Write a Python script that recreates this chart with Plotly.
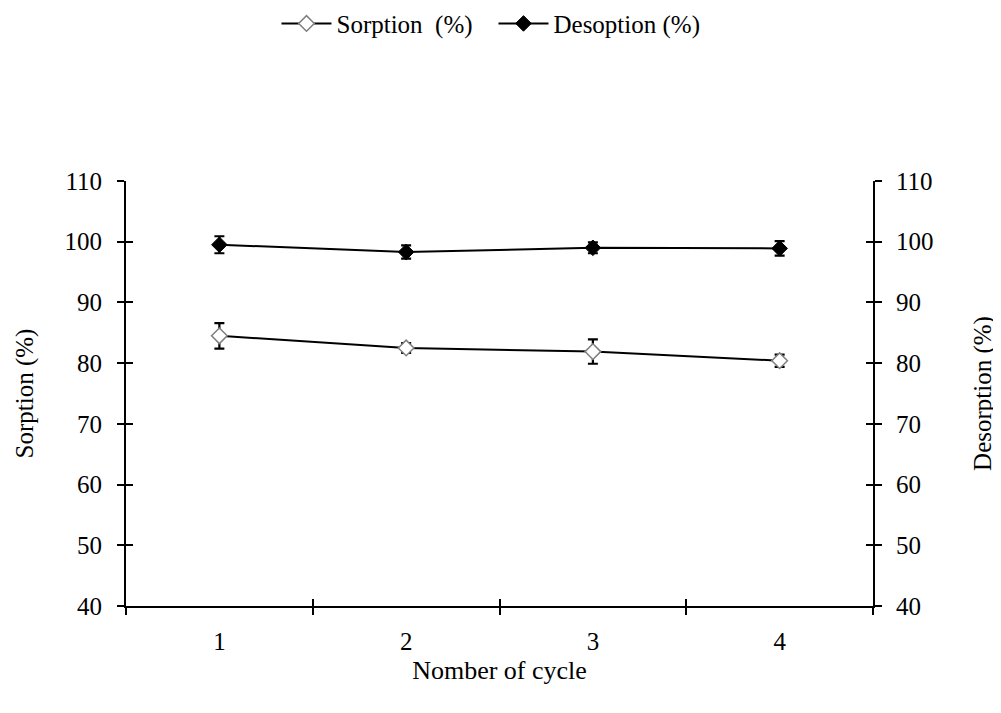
import plotly.graph_objects as go

cycles = ["1", "2", "3", "4"]
sorption = [84.5, 82.5, 81.9, 80.4]
sorption_err = [2.1, 0.8, 2.0, 1.0]
desorption = [99.5, 98.3, 99.0, 98.9]
desorption_err = [1.4, 1.1, 0.9, 1.2]
y_ticks = [40, 50, 60, 70, 80, 90, 100, 110]
x_boundaries = [0.5, 1.5, 2.5, 3.5]

FONT = "Liberation Serif, Times New Roman, serif"
FS = 25

fig = go.Figure()
fig.add_trace(go.Scatter(
    x=cycles, y=sorption, name="Sorption\u00a0\u00a0(%)", mode="lines+markers",
    line=dict(color="black", width=2),
    marker=dict(symbol="diamond", size=12, color="white", line=dict(color="#7f7f7f", width=1.5)),
    error_y=dict(type="data", array=sorption_err, color="black", thickness=2.2, width=5),
    xaxis="x", yaxis="y",
))
fig.add_trace(go.Scatter(
    x=cycles, y=desorption, name="Desoption (%)", mode="lines+markers",
    line=dict(color="black", width=2),
    marker=dict(symbol="diamond", size=12, color="black", line=dict(color="black", width=1)),
    error_y=dict(type="data", array=desorption_err, color="black", thickness=2.2, width=5),
    xaxis="x", yaxis="y2",
))
# invisible helper traces so that the overlay tick axes (inner half of crossing ticks) are drawn
for ya in ["y3", "y4"]:
    fig.add_trace(go.Scatter(x=x_boundaries, y=desorption, mode="markers",
                             marker=dict(opacity=0), showlegend=False, hoverinfo="skip",
                             xaxis="x2", yaxis=ya))

yrange = [40, 110]
common_y = dict(range=yrange, tickvals=y_ticks, showgrid=False, zeroline=False, automargin=False,
                tickfont=dict(family=FONT, size=FS, color="black"))
inner = dict(ticks="inside", ticklen=7, tickwidth=2, tickcolor="black",
             showticklabels=False, showline=False, showgrid=False, zeroline=False, automargin=False)

fig.update_layout(
    width=1001, height=713,
    margin=dict(l=118, r=136, t=173, b=115, autoexpand=False),
    paper_bgcolor="white", plot_bgcolor="white",
    font=dict(family=FONT, size=FS, color="black"),
    showlegend=True,
    legend=dict(orientation="h", xref="container", yref="container",
                x=0.485, xanchor="center", y=0.978, yanchor="middle",
                entrywidth=152, itemwidth=50,
                font=dict(family=FONT, size=FS, color="black"), bgcolor="rgba(0,0,0,0)"),
    xaxis=dict(type="category", range=[-0.5, 3.5], tickson="boundaries", automargin=False,
               ticks="outside", ticklen=7, tickwidth=2, tickcolor="black",
               showline=True, linecolor="black", linewidth=2, showgrid=False,
               ticklabelstandoff=12,
               tickfont=dict(family=FONT, size=FS, color="black"),
               title=dict(text="Nomber of cycle", font=dict(family=FONT, size=26), standoff=7)),
    xaxis2=dict(type="linear", range=[-0.5, 3.5], tickvals=x_boundaries,
                overlaying="x", anchor="y", side="bottom", **inner),
    yaxis=dict(**common_y, side="left", ticks="outside", ticklen=7, tickwidth=2, tickcolor="black",
               showline=True, linecolor="black", linewidth=2, ticklabelstandoff=10,
               title=dict(text="Sorption (%)", font=dict(family=FONT, size=FS), standoff=24)),
    yaxis2=dict(**common_y, side="right", overlaying="y", anchor="x",
                ticks="outside", ticklen=7, tickwidth=2, tickcolor="black",
                showline=True, linecolor="black", linewidth=2, ticklabelstandoff=9,
                title=dict(text="Desorption (%)", font=dict(family=FONT, size=FS), standoff=41)),
    yaxis3=dict(range=yrange, tickvals=y_ticks, overlaying="y", side="left", anchor="x2", **inner),
    yaxis4=dict(range=yrange, tickvals=y_ticks, overlaying="y", side="right", anchor="x2", **inner),
)

fig.write_html("out.html")
